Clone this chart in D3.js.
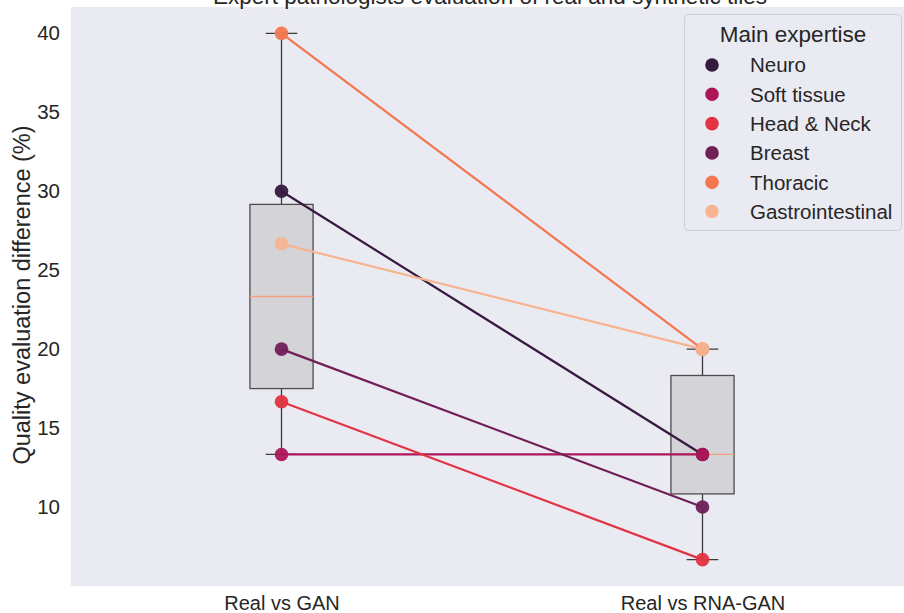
<!DOCTYPE html>
<html lang="en">
<head>
<meta charset="utf-8">
<title>Expert pathologists evaluation</title>
<script src="https://d3js.org/d3.v7.min.js"></script>
<style>
  body { margin: 0; background: #fff; }
  svg { font-family: "Liberation Sans", Arial, sans-serif; }
  .tick text { font-size: 20.5px; fill: #262626; }
</style>
</head>
<body>
<svg width="904" height="613"></svg>
<script>
// data
const groups = ["Real vs GAN", "Real vs RNA-GAN"];
const expertise = ["Neuro", "Soft tissue", "Head & Neck", "Breast", "Thoracic", "Gastrointestinal"];
const realVsGan = [30, 13.33, 16.67, 20, 40, 26.67];
const realVsRnaGan = [13.33, 13.33, 6.67, 10, 20, 20];
const colors = ["#35193e", "#ad1759", "#e13342", "#701f57", "#f37651", "#f6b48f"];
const yTicks = [10, 15, 20, 25, 30, 35, 40];

const svg = d3.select("svg");
const plotLeft = 71, plotTop = 7, plotBottom = 586;

const x = d3.scaleLinear().domain([0.5, 2.5]).range([plotLeft, plotLeft + 842]);
const y = d3.scaleLinear().domain([5, 41.667]).range([plotBottom, plotTop]);

// background
svg.append("rect")
  .attr("x", plotLeft).attr("y", plotTop)
  .attr("width", 904 - plotLeft).attr("height", plotBottom - plotTop)
  .attr("fill", "#eaeaf2");

// title (cut at the top edge, as in the original)
svg.append("text")
  .attr("x", 490).attr("y", 4)
  .attr("text-anchor", "middle")
  .attr("font-size", "22.5px")
  .attr("fill", "#262626")
  .text("Expert pathologists evaluation of real and synthetic tiles");

// y axis
const yAxis = svg.append("g")
  .attr("transform", `translate(${plotLeft},0)`)
  .call(d3.axisLeft(y).tickValues(yTicks).tickSize(0).tickPadding(11));
yAxis.select(".domain").remove();

svg.append("text")
  .attr("transform", "translate(30,295) rotate(-90)")
  .attr("text-anchor", "middle")
  .attr("font-size", "23.5px")
  .attr("fill", "#262626")
  .text("Quality evaluation difference (%)");

// x axis labels
const xAxis = svg.append("g")
  .attr("transform", `translate(0,${plotBottom})`)
  .call(d3.axisBottom(x).tickValues([1, 2]).tickFormat((d, i) => groups[i]).tickSize(0).tickPadding(9.5));
xAxis.select(".domain").remove();
xAxis.selectAll(".tick text").style("font-size", "20px");

// box plots
const series = [realVsGan, realVsRnaGan];
series.forEach((vals, i) => {
  const s = vals.slice().sort(d3.ascending);
  const q1 = d3.quantile(s, 0.25), med = d3.quantile(s, 0.5), q3 = d3.quantile(s, 0.75);
  const iqr = q3 - q1;
  const lo = d3.min(s.filter(v => v >= q1 - 1.5 * iqr));
  const hi = d3.max(s.filter(v => v <= q3 + 1.5 * iqr));
  const cx = x(i + 1);
  const hw = (x(1.075) - x(1));
  const cw = hw / 2;
  const g = svg.append("g");
  g.append("line").attr("x1", cx).attr("x2", cx).attr("y1", y(hi)).attr("y2", y(q3))
    .attr("stroke", "#3a3a3a").attr("stroke-width", 1.3);
  g.append("line").attr("x1", cx).attr("x2", cx).attr("y1", y(q1)).attr("y2", y(lo))
    .attr("stroke", "#3a3a3a").attr("stroke-width", 1.3);
  g.append("line").attr("x1", cx - cw).attr("x2", cx + cw).attr("y1", y(hi)).attr("y2", y(hi))
    .attr("stroke", "#3a3a3a").attr("stroke-width", 1.3);
  g.append("line").attr("x1", cx - cw).attr("x2", cx + cw).attr("y1", y(lo)).attr("y2", y(lo))
    .attr("stroke", "#3a3a3a").attr("stroke-width", 1.3);
  g.append("rect")
    .attr("x", cx - hw).attr("y", y(q3))
    .attr("width", 2 * hw).attr("height", y(q1) - y(q3))
    .attr("fill", "#d3d3d8").attr("stroke", "#4d4d4d").attr("stroke-width", 1.3);
  g.append("line").attr("x1", cx - hw).attr("x2", cx + hw).attr("y1", y(med)).attr("y2", y(med))
    .attr("stroke", "#f4a07a").attr("stroke-width", 1.3);
});

// paired lines
expertise.forEach((name, k) => {
  svg.append("line")
    .attr("x1", x(1)).attr("y1", y(realVsGan[k]))
    .attr("x2", x(2)).attr("y2", y(realVsRnaGan[k]))
    .attr("stroke", colors[k]).attr("stroke-width", 2.2);
});

// points
expertise.forEach((name, k) => {
  [realVsGan[k], realVsRnaGan[k]].forEach((v, i) => {
    svg.append("circle")
      .attr("cx", x(i + 1)).attr("cy", y(v)).attr("r", 6.8)
      .attr("fill", colors[k]).attr("opacity", 0.95);
  });
});

// legend
const lg = svg.append("g");
lg.append("rect")
  .attr("x", 684.5).attr("y", 14.5).attr("width", 217).attr("height", 216)
  .attr("rx", 4).attr("fill", "#eaeaf2").attr("stroke", "#cfcfd6").attr("stroke-width", 1);
lg.append("text")
  .attr("x", 793).attr("y", 42)
  .attr("text-anchor", "middle").attr("font-size", "22.5px").attr("fill", "#262626")
  .text("Main expertise");
expertise.forEach((name, k) => {
  const yy = 65 + k * 29.3;
  lg.append("circle").attr("cx", 712).attr("cy", yy).attr("r", 6.8).attr("fill", colors[k]);
  lg.append("text")
    .attr("x", 750).attr("y", yy + 7.3)
    .attr("font-size", "20.5px").attr("fill", "#262626")
    .text(name);
});
</script>
</body>
</html>
